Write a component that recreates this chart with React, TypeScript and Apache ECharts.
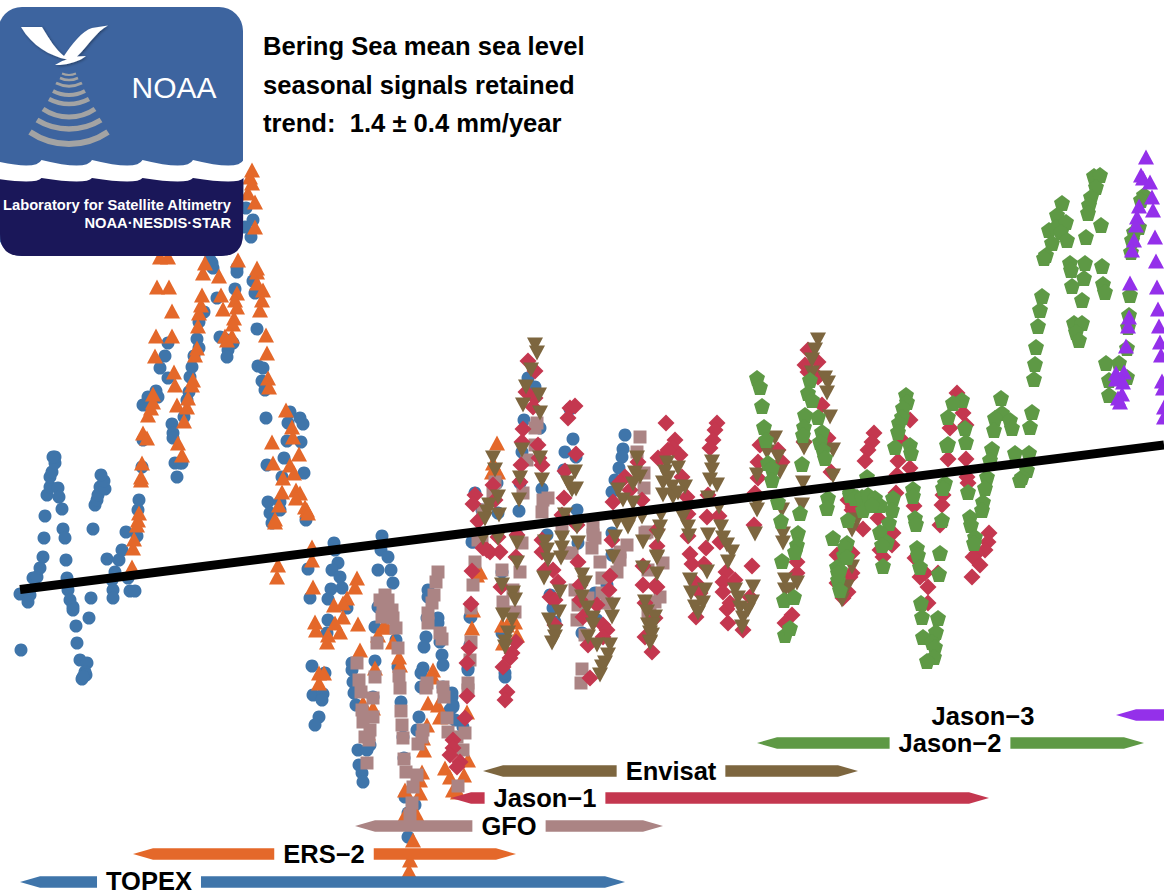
import React, { useEffect, useRef } from "react";
import * as echarts from "echarts";

// x: weeks since the first TOPEX cycle; y: sea level anomaly in quarter-millimetres
const topex = [[1,-50],[0,6],[8,-2],[10,5],[13,22],[17,23],[20,32],[23,43],[24,62],[25,84],[27,105],[30,113],[30,123],[32,128],[35,137],[35,143],[33,143],[38,112],[39,103],[42,91],[43,71],[45,62],[46,40],[47,22],[48,10],[50,0],[53,-7],[53,-10],[56,-26],[57,-43],[60,-60],[67,-63],[65,-72],[66,-75],[62,-79],[63,-77],[71,2],[69,-18],[73,71],[75,95],[77,100],[78,105],[80,113],[85,111],[84,119],[81,125],[87,41],[95,28],[92,20],[93,10],[93,2],[99,40],[102,50],[106,68],[117,64],[118,90],[119,100],[122,133],[108,22],[110,9],[115,9],[155,137],[160,137],[157,123],[123,160],[123,195],[128,203],[136,209],[138,203],[140,232],[145,244],[148,257],[148,222],[152,176],[153,167],[153,162],[162,137],[164,183],[167,200],[169,208],[170,223],[172,233],[174,244],[179,252],[177,261],[179,278],[184,288],[197,302],[217,328],[215,311],[237,271],[200,263],[207,260],[208,250],[207,243],[213,257],[233,319],[235,307],[238,234],[243,232],[242,219],[245,210],[246,182],[270,188],[268,177],[280,182],[283,176],[267,159],[281,158],[264,142],[247,135],[284,127],[262,123],[248,98],[260,98],[250,87],[252,77],[260,90],[286,80],[314,57],[192,337],[193,332],[226,392],[233,380],[231,363],[225,373],[190,340],[217,332],[315,50],[318,37],[288,31],[312,30],[320,23],[322,12],[311,11],[290,2],[308,1],[327,-8],[362,64],[361,50],[368,43],[358,30],[371,30],[373,17],[355,-27],[358,-7],[308,-20],[307,-33],[292,-66],[305,-73],[293,-95],[303,-94],[302,-100],[299,-117],[295,-125],[355,-61],[332,-63],[332,-70],[333,-82],[334,-93],[336,-105],[353,-97],[350,-145],[338,-150],[347,-150],[339,-165],[342,-173],[343,-182],[376,-40],[378,-67],[381,-102],[408,10],[408,3],[407,-18],[418,-18],[418,-23],[406,-37],[404,-47],[420,-42],[422,-55],[423,-65],[403,-68],[401,-73],[401,-87],[423,-87],[432,-93],[433,-105],[430,-110],[399,-117],[397,-130],[383,-137],[384,-158],[435,-120],[443,-127],[448,-70],[450,-17],[453,58],[385,-197],[395,-205],[388,-213],[388,-237],[508,222],[515,213],[504,180],[520,172],[502,148],[500,117],[499,89],[522,111],[478,87],[455,107],[462,90],[453,60],[497,65],[527,65],[550,191],[553,161],[545,148],[556,143],[544,130],[557,90],[592,67],[605,165],[603,151],[602,143],[599,132],[595,120],[592,108],[477,117],[452,58],[482,28],[451,-17],[450,-45],[448,-68],[558,57],[592,45],[587,15],[575,7],[530,5],[533,-8],[535,-22],[562,-33],[577,-20],[485,-77],[485,-73],[482,-33],[432,-97],[433,-107]];

const ers2 = [[112,33],[113,52],[114,61],[117,75],[118,80],[119,87],[121,120],[121,123],[122,137],[123,167],[127,162],[128,185],[131,192],[133,198],[133,206],[135,244],[136,264],[152,264],[152,289],[137,313],[149,313],[155,215],[154,228],[157,195],[158,157],[162,145],[164,179],[167,193],[168,202],[172,215],[173,220],[175,245],[177,252],[178,274],[179,287],[181,295],[182,305],[183,327],[185,337],[199,324],[201,305],[203,291],[217,307],[215,300],[217,293],[214,282],[213,276],[218,340],[237,328],[237,317],[243,310],[242,300],[240,290],[246,265],[247,247],[248,222],[249,213],[205,264],[212,264],[207,260],[266,190],[272,173],[273,163],[279,146],[252,158],[253,137],[270,135],[274,127],[263,122],[262,108],[276,110],[280,107],[276,102],[259,95],[255,81],[285,93],[287,90],[288,87],[148,343],[140,343],[232,430],[230,423],[232,417],[228,407],[235,398],[235,373],[237,332],[255,78],[292,53],[292,40],[258,35],[257,23],[293,13],[337,22],[335,13],[327,2],[323,-3],[314,-5],[323,-17],[338,-24],[295,-22],[296,-30],[308,-35],[307,-42],[320,-32],[315,-23],[363,-27],[367,-27],[358,-35],[373,-42],[340,-50],[355,-68],[379,-57],[380,-65],[299,-73],[304,-73],[299,-83],[343,-103],[353,-108],[348,-133],[413,-70],[413,-77],[408,-103],[418,-105],[420,-117],[407,-125],[403,-138],[404,-150],[402,-172],[400,-180],[385,-190],[400,-193],[385,-215],[397,-215],[393,-240],[390,-260],[389,-271],[460,28],[457,25],[452,-28],[453,-10],[447,-112],[444,-175],[425,-168],[430,-177],[433,-190],[438,-192],[448,-160],[477,157],[473,137],[472,128],[478,128],[487,-25],[482,-25],[497,-35],[495,-22],[483,-43]];

const gfo = [[365,5],[360,0],[368,0],[363,-8],[372,-10],[362,-17],[373,-18],[376,-28],[357,-43],[378,-48],[337,-63],[339,-80],[341,-92],[353,-98],[355,-77],[342,-110],[353,-117],[343,-122],[350,-130],[345,-137],[349,-140],[347,-163],[379,-76],[380,-88],[381,-111],[382,-125],[383,-138],[384,-159],[386,-172],[397,-175],[393,-187],[392,-203],[390,-215],[418,28],[416,18],[414,5],[412,-3],[408,-13],[408,-23],[420,-33],[422,-39],[407,-83],[406,-88],[423,-87],[424,-97],[427,-118],[428,-132],[403,-130],[402,-137],[398,-144],[437,-137],[445,-133],[443,-150],[438,-186],[448,-83],[448,-90],[451,-42],[450,-60],[451,-8],[453,15],[455,38],[458,60],[517,177],[515,155],[515,172],[503,107],[507,140],[475,118],[473,107],[463,90],[523,100],[528,102],[522,88],[620,163],[617,148],[624,127],[624,112],[573,73],[573,65],[542,72],[627,68],[462,58],[482,30],[493,10],[483,-2],[495,-12],[502,57],[500,28],[545,47],[552,47],[575,62],[572,52],[580,38],[582,22],[555,10],[568,2],[558,-5],[557,-20],[565,-35],[562,-69],[561,-83],[582,7],[587,-3],[597,28],[600,40],[607,55],[600,48],[625,67],[628,30],[630,-10],[643,37],[640,3],[635,-2],[628,-12]];

const jason1 = [[508,239],[515,229],[506,208],[515,202],[513,193],[503,171],[502,158],[518,155],[519,142],[501,135],[522,135],[500,118],[473,115],[455,105],[453,96],[475,100],[458,79],[544,102],[550,192],[555,194],[548,182],[556,146],[545,129],[557,75],[605,123],[600,118],[610,110],[593,98],[622,100],[618,138],[638,142],[542,85],[463,52],[470,48],[480,48],[478,63],[497,65],[496,43],[452,29],[481,13],[451,-4],[496,-42],[492,-53],[490,-58],[483,-67],[487,-92],[485,-100],[449,-48],[447,-63],[447,-96],[445,-118],[433,-140],[433,-148],[430,-155],[440,-162],[437,-167],[467,50],[522,60],[522,48],[558,38],[592,60],[590,24],[589,10],[525,30],[533,30],[538,18],[530,3],[535,0],[535,-25],[560,15],[560,0],[577,-5],[563,-17],[583,-25],[587,-30],[583,-37],[568,-45],[570,-78],[623,34],[623,15],[637,13],[625,-3],[625,-37],[632,-52],[646,177],[655,160],[653,152],[660,145],[642,142],[648,150],[662,123],[667,103],[668,86],[637,70],[668,64],[637,54],[670,46],[672,36],[686,52],[684,36],[635,14],[635,-18],[676,17],[680,7],[676,-17],[697,177],[695,170],[693,160],[690,152],[688,105],[687,83],[699,84],[700,58],[706,28],[715,20],[703,18],[703,8],[707,-9],[708,-23],[732,34],[730,3],[723,-30],[710,-3],[738,138],[738,122],[735,107],[734,75],[740,155],[758,150],[762,138],[784,158],[777,27],[777,38],[802,195],[808,162],[811,128],[788,228],[798,223],[772,-15],[765,-23],[817,45],[817,17],[823,2],[828,8],[830,23],[828,100],[833,93],[854,167],[852,158],[848,150],[845,139],[890,180],[881,161],[878,139],[877,125],[890,132],[876,107],[858,82],[843,71],[832,90],[873,67],[872,55],[860,50],[863,43],[832,47],[832,27],[894,94],[900,23],[905,27],[908,13],[908,-3],[918,27],[937,207],[943,187],[930,172],[946,175],[928,141],[946,141],[922,95],[920,75],[923,105],[947,123],[948,117],[969,67],[968,58],[965,50],[957,47],[953,43],[960,35],[952,23],[895,42],[788,250],[785,235],[798,238]];

const envisat = [[515,255],[517,247],[511,230],[506,213],[503,195],[519,205],[520,187],[520,142],[502,150],[500,122],[499,100],[473,142],[475,130],[478,103],[469,95],[467,88],[465,81],[479,85],[522,120],[555,128],[548,117],[552,110],[556,111],[545,85],[617,142],[615,127],[620,123],[613,116],[598,110],[603,100],[613,97],[597,78],[610,78],[608,73],[622,83],[557,73],[463,62],[478,62],[497,57],[497,37],[482,15],[493,7],[495,0],[483,-15],[492,-20],[488,-33],[485,-42],[485,-47],[525,58],[527,50],[528,40],[542,62],[542,52],[541,42],[524,22],[540,8],[539,-12],[529,-20],[535,-32],[535,-37],[532,-43],[558,57],[562,25],[565,17],[562,3],[567,-8],[573,-18],[573,-25],[568,-37],[577,-45],[590,-45],[588,-55],[585,-63],[582,-67],[580,-75],[593,-5],[592,-17],[623,32],[593,43],[595,63],[608,77],[623,58],[625,-2],[627,-12],[635,-17],[628,-25],[630,-33],[630,-42],[637,42],[647,137],[645,128],[658,132],[648,122],[643,117],[652,113],[643,105],[653,103],[665,113],[658,107],[692,138],[692,130],[690,120],[697,115],[688,102],[641,85],[640,73],[638,64],[637,43],[637,26],[633,-25],[632,-35],[630,-43],[663,83],[668,73],[669,64],[688,65],[670,20],[685,10],[671,7],[683,-3],[675,-7],[678,-13],[687,28],[699,93],[701,73],[703,62],[707,55],[712,48],[708,38],[715,10],[718,2],[733,13],[732,-2],[720,-8],[728,-10],[723,-18],[722,-27],[737,125],[737,97],[737,90],[735,66],[755,162],[747,148],[758,143],[760,128],[762,90],[763,66],[763,57],[765,20],[765,10],[777,17],[770,10],[784,152],[782,95],[783,117],[808,217],[807,207],[810,183],[813,150],[813,124],[832,70],[792,227],[832,33],[827,13],[822,0],[837,80],[798,260],[795,250],[792,240],[805,222]];

const jason2 = [[737,222],[740,213],[742,194],[744,173],[746,160],[748,137],[752,132],[752,120],[758,98],[761,79],[762,39],[764,0],[774,3],[765,-35],[770,-28],[790,220],[788,207],[792,200],[785,185],[784,173],[783,165],[798,183],[802,168],[800,158],[803,150],[805,142],[782,136],[780,87],[778,67],[777,55],[775,48],[808,102],[807,92],[813,62],[827,57],[824,45],[817,33],[820,30],[818,20],[820,10],[830,107],[837,103],[828,80],[1014,221],[1012,188],[1010,173],[981,202],[982,187],[975,182],[990,180],[992,172],[974,170],[972,151],[970,140],[995,147],[1009,147],[1007,130],[1002,123],[1000,120],[967,123],[965,112],[963,98],[962,90],[950,83],[951,75],[955,63],[954,57],[886,205],[887,198],[883,192],[882,183],[879,177],[878,168],[875,153],[890,155],[891,147],[893,111],[893,104],[895,82],[896,76],[897,52],[898,45],[900,33],[920,47],[919,26],[901,-3],[902,-17],[918,-18],[916,-32],[903,-37],[912,-42],[915,-47],[914,-57],[907,-61],[927,155],[928,156],[925,117],[923,112],[922,80],[942,200],[933,197],[928,183],[945,172],[946,158],[948,108],[873,102],[872,90],[869,77],[860,68],[867,58],[862,55],[863,34],[843,90],[847,123],[830,105],[835,102],[842,103],[848,105],[855,102],[860,95],[852,95],[825,53],[827,43],[818,27],[1042,397],[1037,385],[1029,370],[1036,373],[1046,378],[1041,368],[1047,360],[1032,357],[1026,345],[1024,342],[1074,424],[1080,425],[1076,413],[1071,403],[1069,395],[1068,387],[1081,375],[1066,363],[1050,337],[1051,330],[1065,337],[1082,334],[1064,322],[1052,314],[1083,316],[1085,308],[1062,300],[1022,304],[1020,290],[1018,274],[1016,253],[1015,236],[1054,277],[1062,277],[1056,268],[1059,260],[1086,237],[1099,237],[1089,220],[1089,205],[1107,223],[1124,405],[1121,400],[1119,373],[1114,368],[1112,360],[1111,348],[1110,305],[1109,285],[1108,273],[1107,252]];

const jason3 = [[1126,443],[1121,425],[1123,422],[1130,418],[1132,403],[1119,394],[1133,390],[1117,383],[1116,375],[1135,363],[1114,360],[1112,350],[1136,339],[1110,317],[1137,313],[1109,283],[1138,291],[1108,274],[1139,274],[1106,254],[1140,258],[1141,245],[1096,227],[1104,228],[1096,221],[1103,218],[1102,206],[1098,202],[1100,198],[1142,219],[1143,212],[1144,193],[1144,183]];

const trend = [[0,10.5],[1144,155]];

const missionNames = ["TOPEX","ERS\u22122","GFO","Jason\u22121","Envisat","Jason\u22122","Jason\u22123"];
const missionStart = [0,113,335,431,463,737,1096];
const missionEnd = [605,496,643,969,838,1124,1180];
const missionLevel = [-282,-254,-226,-198,-171,-143,-115];
const missionLabelAt = [129,304,489,525,651,930,963];
const missionLabelLevel = [-281,-254,-226,-198,-171,-143,-116];

const titleLines = ["Bering Sea mean sea level","seasonal signals retained","trend:  1.4 \u00b1 0.4 mm/year"];

const BLUE = "#3F75AA", ORANGE = "#E4682A", MAUVE = "#AB8484", CRIMSON = "#C4374F", BROWN = "#7D663F", GREEN = "#5E9945", PURPLE = "#9430EA";
const PENTAGON = "path://M50 0 L100 37 L81 97 L19 97 L0 37 Z";

function scallops(y: number, ctrl: number) {
  let d = `M-20 ${y}`;
  for (let x = -9; x < 260; x += 50.5) d += ` Q${x - 5.5} ${ctrl} ${x} ${y}`;
  return d;
}
const WAVE_WHITE = scallops(160, 171) + " L243 200 L-20 200 Z";
const WAVE_NAVY = scallops(178, 185) + " L243 234 Q243 256 221 256 L22 256 Q0 256 0 234 Z";
const BIRD = "M21 27 L42 27 C50 40 56 50 64 56 C72 44 82 31 92 28 L108 25.5 C96 32 88 46 77 56.5 L86 56 C80 61 70 64 60 65 L55 65 C60 62 64 60 67 59.5 C50 56 32 46 21 27 Z";

echarts.graphic.registerShape("noaaWhite", echarts.graphic.extendPath(WAVE_WHITE, {}) as any);
echarts.graphic.registerShape("noaaNavy", echarts.graphic.extendPath(WAVE_NAVY, {}) as any);
echarts.graphic.registerShape("noaaBird", echarts.graphic.extendPath(BIRD, {}) as any);

const scatter = (name: string, data: number[][], symbol: string, size: any, color: string, z: number, rotate = 0) => ({
  name, type: "scatter", data, symbol, symbolSize: size, symbolRotate: rotate, z,
  itemStyle: { color, opacity: 1 }, silent: true,
});

const rings = [[144,39,12,6],[129,32,9,5.5],[117,26,8,5],[104,20,5,4.5],[95,16,4,4],[86,13,3,3],[80,9,2,2.5],[75,7,1.5,2]];

function logo() {
  const Z = 20;
  const els: any[] = [
    { type: "rect", z: Z, shape: { x: -2, y: 7, width: 245, height: 249, r: 24 }, style: { fill: "#3D649F" } },
    { type: "noaaWhite", z: Z + 1, x: 0, y: 0, style: { fill: "#ffffff" } },
    { type: "noaaNavy", z: Z + 2, x: 0, y: 0, style: { fill: "#1A1759" } },
    { type: "noaaBird", z: Z + 3, x: 0, y: 0, style: { fill: "#ffffff", shadowBlur: 3, shadowColor: "rgba(0,0,0,0.4)", shadowOffsetX: 1, shadowOffsetY: 1 } },
    { type: "text", z: Z + 3, style: { text: "NOAA", x: 174, y: 87, fill: "#ffffff", font: "30px 'Liberation Sans', sans-serif", textAlign: "center", textVerticalAlign: "middle" } },
    { type: "text", z: Z + 3, style: { text: "Laboratory for Satellite Altimetry", x: 231, y: 205, fill: "#ffffff", font: "bold 14.7px 'Liberation Sans', sans-serif", textAlign: "right", textVerticalAlign: "middle" } },
    { type: "text", z: Z + 3, style: { text: "NOAA\u00b7NESDIS\u00b7STAR", x: 231, y: 223, fill: "#ffffff", font: "bold 14.7px 'Liberation Sans', sans-serif", textAlign: "right", textVerticalAlign: "middle" } },
  ];
  rings.forEach(([y, half, sag, w]) => {
    const r = (half * half + sag * sag) / (2 * sag);
    const a = Math.asin(half / r);
    els.push({
      type: "arc", z: Z + 1,
      shape: { cx: 69, cy: y - r, r, startAngle: Math.PI / 2 - a, endAngle: Math.PI / 2 + a, clockwise: true },
      style: { fill: "none", stroke: "#A3A3A3", lineWidth: w },
    });
  });
  return els;
}

function renderMission(_: any, api: any) {
  const s = api.coord([api.value(0), api.value(2)]);
  const e = api.coord([api.value(1), api.value(2)]);
  const lab = api.coord([api.value(3), api.value(4)]);
  const name = missionNames[api.value(5)];
  const y = s[1], h = 5.75, head = 20;
  const color = [BLUE, ORANGE, MAUVE, CRIMSON, BROWN, GREEN, PURPLE][api.value(5)];
  return {
    type: "group",
    children: [
      { type: "polygon", shape: { points: [[s[0], y], [s[0] + head, y - h], [e[0] - head, y - h], [e[0], y], [e[0] - head, y + h], [s[0] + head, y + h]] }, style: { fill: color } },
      { type: "text", style: { text: name, x: lab[0], y: lab[1], fill: "#000", font: "bold 25.5px 'Liberation Sans', sans-serif", textAlign: "center", textVerticalAlign: "middle", backgroundColor: "#fff", padding: [0, 9] } },
    ],
  };
}

export default function App() {
  const ref = useRef<HTMLDivElement>(null);
  useEffect(() => {
    const chart = echarts.init(ref.current!, null, { renderer: "svg" });
    chart.setOption({
      animation: false,
      backgroundColor: "#ffffff",
      grid: { left: 0, right: 0, top: 0, bottom: 0 },
      xAxis: { type: "value", min: -20, max: 1144, show: false },
      yAxis: { type: "value", min: -296, max: 600, show: false },
      series: [
        scatter("TOPEX", topex, "circle", 13, BLUE, 2),
        scatter("ERS-2", ers2, "triangle", [16, 15], ORANGE, 3),
        scatter("GFO", gfo, "rect", 13, MAUVE, 4),
        scatter("Jason-1", jason1, "diamond", 17, CRIMSON, 5),
        scatter("Envisat", envisat, "triangle", [16, 15], BROWN, 6, 180),
        scatter("Jason-2", jason2, PENTAGON, 16, GREEN, 7),
        scatter("Jason-3", jason3, "triangle", [16, 15], PURPLE, 8),
        {
          name: "trend", type: "line", data: trend, z: 9, silent: true, showSymbol: false, symbol: "none",
          lineStyle: { color: "#000", width: 9, cap: "butt" },
        },
        {
          name: "missions", type: "custom", z: 10, silent: true, clip: false,
          renderItem: renderMission,
          encode: { x: [0, 1], y: 2 },
          data: missionNames.map((_, i) => [missionStart[i], missionEnd[i], missionLevel[i], missionLabelAt[i], missionLabelLevel[i], i]),
        },
      ],
      graphic: [
        ...logo(),
        ...titleLines.map((t, i) => ({
          type: "text", z: 30,
          style: { text: t, x: 263, y: [46, 85, 123][i], fill: "#000", font: "bold 25.6px 'Liberation Sans', sans-serif", textAlign: "left", textVerticalAlign: "middle" },
        })),
      ],
    });
    return () => chart.dispose();
  }, []);
  return <div ref={ref} style={{ position: "absolute", left: 0, top: 0, width: 1164, height: 896 }} />;
}
